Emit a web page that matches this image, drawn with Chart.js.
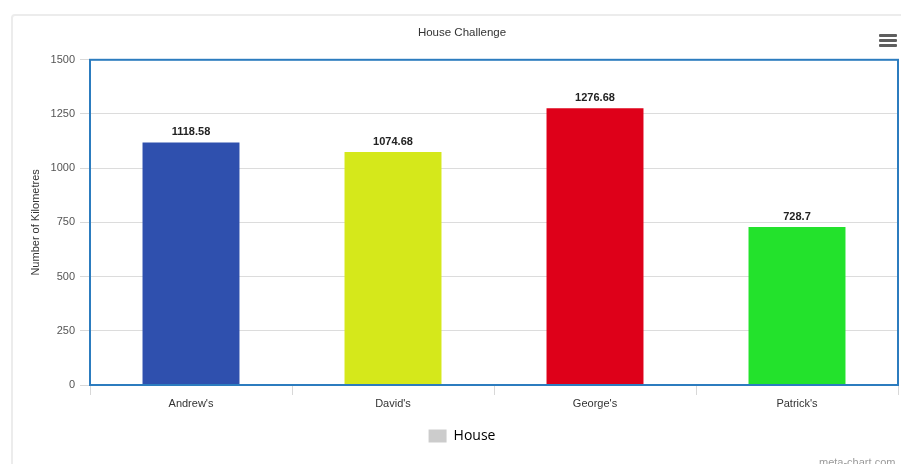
<!DOCTYPE html>
<html>
<head>
<meta charset="utf-8">
<script src="https://cdn.jsdelivr.net/npm/chart.js@4/dist/chart.umd.min.js"></script>
<style>
  html, body { margin: 0; padding: 0; background: #ffffff; width: 901px; height: 464px; overflow: hidden; }
  #card { position: absolute; left: 11px; top: 14px; width: 1000px; height: 600px; border: 2px solid #ececec; border-radius: 4px; box-sizing: border-box; }
  #wrap { position: absolute; left: 0; top: 0; width: 901px; height: 464px; overflow: hidden; }
  #menu { position: absolute; left: 879px; top: 34px; width: 18px; }
  #menu div { height: 3px; background: #5e5e5e; margin-bottom: 2px; border-radius: 1px; }
  #wm { position: absolute; left: 819px; top: 456px; font: 11px "Liberation Sans", Arial, sans-serif; color: #9a9a9a; white-space: nowrap; }
</style>
</head>
<body>
<div id="card"></div>
<div id="wrap"><canvas id="c" width="924" height="464"></canvas></div>
<div id="menu"><div></div><div></div><div></div></div>
<div id="wm">meta-chart.com</div>
<script>
const categories = ["Andrew's", "David's", "George's", "Patrick's"];
const seriesName = "House";
const values = [1118.58, 1074.68, 1276.68, 728.7];
const valueLabels = ["1118.58", "1074.68", "1276.68", "728.7"];
const barColors = ["#2f50ae", "#d5e81b", "#de0019", "#23e22c"];
const yTicks = [0, 250, 500, 750, 1000, 1250, 1500];

const plotBorder = {
  id: 'plotBorder',
  afterDatasetsDraw(chart) {
    const {ctx, chartArea: a} = chart;
    ctx.save();
    ctx.strokeStyle = '#2c7cbf';
    ctx.lineWidth = 2;
    ctx.strokeRect(a.left, a.top, a.right - a.left, a.bottom - a.top);
    ctx.restore();
  }
};
const valueLabelPlugin = {
  id: 'valueLabels',
  afterDatasetsDraw(chart) {
    const {ctx} = chart;
    const meta = chart.getDatasetMeta(0);
    ctx.save();
    ctx.font = 'bold 11px "Liberation Sans", Arial, sans-serif';
    ctx.fillStyle = '#222';
    ctx.textAlign = 'center';
    ctx.textBaseline = 'bottom';
    meta.data.forEach((bar, i) => {
      ctx.fillText(valueLabels[i], bar.x, bar.y - 5);
    });
    ctx.restore();
  }
};

new Chart(document.getElementById('c'), {
  type: 'bar',
  data: {
    labels: categories,
    datasets: [{
      label: seriesName,
      data: values,
      backgroundColor: barColors,
      borderWidth: 0,
      categoryPercentage: 1,
      barPercentage: 0.48
    }]
  },
  options: {
    responsive: false,
    animation: false,
    layout: { padding: { left: 0, right: 0, top: 0, bottom: 11 } },
    plugins: {
      title: {
        display: true,
        text: 'House Challenge',
        color: '#333',
        font: { family: '"Liberation Sans", Arial, sans-serif', size: 11.5, weight: 'normal' },
        padding: { top: 26, bottom: 20 }
      },
      legend: {
        display: true,
        position: 'bottom',
        labels: {
          boxWidth: 18,
          boxHeight: 13,
          padding: 10,
          color: '#555',
          font: { family: '"Open Sans", sans-serif', size: 14 },
          generateLabels() {
            return [{ text: seriesName, fillStyle: '#cccccc', strokeStyle: '#cccccc', lineWidth: 0, hidden: false, datasetIndex: 0 }];
          }
        },
        onClick() {}
      },
      tooltip: { enabled: false }
    },
    scales: {
      x: {
        grid: { display: true, drawOnChartArea: false, drawTicks: true, tickLength: 10, color: '#d8d8d8', offset: true },
        border: { display: false },
        ticks: { color: '#333', padding: 2, font: { family: '"Liberation Sans", Arial, sans-serif', size: 11 } },
        afterFit(scale) { scale.height = 34; }
      },
      y: {
        min: 0,
        max: 1500,
        afterBuildTicks(scale) { scale.ticks = yTicks.map(v => ({ value: v })); },
        grid: { color: '#dcdcdc', tickLength: 10, tickColor: '#d8d8d8' },
        border: { display: false },
        ticks: {
          color: '#555', padding: 5,
          font: { family: '"Liberation Sans", Arial, sans-serif', size: 11 },
          callback: (v) => String(v)
        },
        title: {
          display: true,
          text: 'Number of Kilometres',
          color: '#333',
          font: { family: '"Liberation Sans", Arial, sans-serif', size: 11 },
          padding: { top: 29, bottom: 0 }
        },
        afterFit(scale) { scale.width = 90; }
      },
      yRight: {
        type: 'linear',
        position: 'right',
        display: true,
        grid: { display: false, drawTicks: false },
        border: { display: false },
        ticks: { display: false },
        afterFit(scale) { scale.width = 26; }
      }
    }
  },
  plugins: [plotBorder, valueLabelPlugin]
});
</script>
</body>
</html>
